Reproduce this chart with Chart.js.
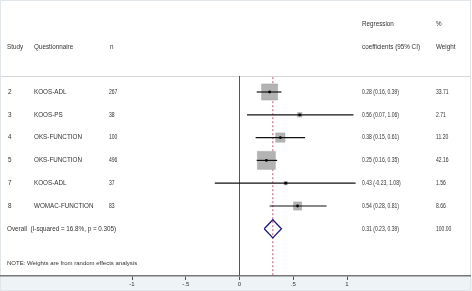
<!DOCTYPE html>
<html>
<head>
<meta charset="utf-8">
<script src="https://cdn.jsdelivr.net/npm/chart.js@4.4.1/dist/chart.umd.min.js"></script>
<style>
  html, body { margin: 0; padding: 0; background: #fff; }
  #wrap { width: 472px; height: 291px; position: relative; }
</style>
</head>
<body>
<div id="wrap"><canvas id="forest"></canvas></div>
<script>
// Study data
const studies = ['2', '3', '4', '5', '7', '8'];
const questionnaires = ['KOOS-ADL', 'KOOS-PS', 'OKS-FUNCTION', 'OKS-FUNCTION', 'KOOS-ADL', 'WOMAC-FUNCTION'];
const sampleSizes = [267, 38, 100, 496, 37, 83];
const estimates = [0.28, 0.56, 0.38, 0.25, 0.43, 0.54];
const lowerCI = [0.16, 0.07, 0.15, 0.16, -0.23, 0.28];
const upperCI = [0.39, 1.06, 0.61, 0.35, 1.08, 0.81];
const weights = [33.71, 2.71, 11.20, 42.16, 1.56, 8.66];

// Pooled estimate
const overall = { est: 0.31, lo: 0.23, hi: 0.39, weight: 100.00 };
const overallLabel = 'Overall  (I-squared = 16.8%, p = 0.305)';
const noteLabel = 'NOTE: Weights are from random effects analysis';

// Axis ticks
const tickValues = [-1, -0.5, 0, 0.5, 1];
const tickLabels = ['-1', '-.5', '0', '.5', '1'];

const fmt = v => v.toFixed(2);
const overallRow = studies.length;

// CI whiskers, one line dataset per study
const ciSets = studies.map((s, i) => ({
  type: 'line',
  data: [{ x: lowerCI[i], y: i }, { x: upperCI[i], y: i }],
  borderColor: '#111',
  borderWidth: 1.2,
  pointRadius: 0,
  order: 1
}));

const datasets = [
  // reference line at zero
  {
    type: 'line',
    data: [{ x: 0, y: -0.7 }, { x: 0, y: 8.07 }],
    borderColor: '#555',
    borderWidth: 1,
    pointRadius: 0,
    order: 5
  },
  // pooled estimate line
  {
    type: 'line',
    data: [{ x: overall.est, y: -0.65 }, { x: overall.est, y: 8.07 }],
    borderColor: '#c4566a',
    borderWidth: 1,
    borderDash: [2, 2],
    pointRadius: 0,
    order: 4
  },
  // weight boxes
  {
    type: 'scatter',
    data: estimates.map((e, i) => ({ x: e, y: i })),
    pointStyle: 'rect',
    pointRadius: weights.map(w => 1.96 * Math.sqrt(w)),
    backgroundColor: '#b3b3b3',
    borderColor: '#a5a5a5',
    borderWidth: 0.5,
    order: 3
  },
  ...ciSets,
  // point estimates
  {
    type: 'scatter',
    data: estimates.map((e, i) => ({ x: e, y: i })),
    pointStyle: 'circle',
    pointRadius: 1.4,
    backgroundColor: '#000',
    borderWidth: 0,
    order: 0
  },
  // pooled diamond
  {
    type: 'line',
    data: [
      { x: overall.lo, y: overallRow },
      { x: overall.est, y: overallRow - 0.4 },
      { x: overall.hi, y: overallRow },
      { x: overall.est, y: overallRow + 0.4 },
      { x: overall.lo, y: overallRow }
    ],
    borderColor: '#1c1c78',
    backgroundColor: '#fff',
    borderWidth: 1.3,
    fill: true,
    pointRadius: 0,
    tension: 0,
    order: 0
  }
];

const frame = {
  id: 'frame',
  beforeDraw(chart) {
    const { ctx, chartArea, width, height } = chart;
    ctx.save();
    ctx.fillStyle = '#eef3f5';
    ctx.fillRect(0, chartArea.bottom, width, height - chartArea.bottom);
    ctx.strokeStyle = '#e0e6ea';
    ctx.lineWidth = 1;
    ctx.strokeRect(0.5, 0.5, 470, height - 1);
    ctx.strokeStyle = '#d6d6d6';
    ctx.beginPath();
    ctx.moveTo(1, 76.5);
    ctx.lineTo(470, 76.5);
    ctx.stroke();
    ctx.restore();
  }
};

// numbers in the reference are set in a narrower face
function narrowText(ctx, text, x, y) {
  ctx.save();
  ctx.translate(x, y);
  ctx.scale(0.8, 1);
  ctx.fillText(text, 0, 0);
  ctx.restore();
}

const labels = {
  id: 'labels',
  afterDraw(chart) {
    const { ctx } = chart;
    const y = chart.scales.y;
    ctx.save();
    ctx.fillStyle = '#333';
    ctx.font = '6.3px "Liberation Sans", Arial, sans-serif';
    ctx.textBaseline = 'middle';
    ctx.textAlign = 'left';

    // header
    const h1 = y.getPixelForValue(-2.95);
    const h2 = y.getPixelForValue(-1.95);
    ctx.fillText('Regression', 362, h1);
    ctx.fillText('%', 436, h1);
    ctx.fillText('Study', 7, h2);
    ctx.fillText('Questionnaire', 34, h2);
    ctx.fillText('n', 110, h2);
    ctx.fillText('coefficients (95% CI)', 362, h2);
    ctx.fillText('Weight', 436, h2);

    studies.forEach((s, i) => {
      const py = y.getPixelForValue(i);
      ctx.fillText(s, 8, py);
      ctx.fillText(questionnaires[i], 34, py);
      narrowText(ctx, String(sampleSizes[i]), 109, py);
      narrowText(ctx, fmt(estimates[i]) + ' (' + fmt(lowerCI[i]) + ', ' + fmt(upperCI[i]) + ')', 362, py);
      narrowText(ctx, fmt(weights[i]), 436, py);
    });

    const po = y.getPixelForValue(overallRow);
    ctx.fillText(overallLabel, 7, po);
    narrowText(ctx, fmt(overall.est) + ' (' + fmt(overall.lo) + ', ' + fmt(overall.hi) + ')', 362, po);
    narrowText(ctx, fmt(overall.weight), 436, po);

    ctx.font = '6px "Liberation Sans", Arial, sans-serif';
    ctx.fillText(noteLabel, 7, y.getPixelForValue(7.5));
    ctx.restore();
  }
};

new Chart(document.getElementById('forest'), {
  data: { datasets },
  plugins: [frame, labels],
  options: {
    responsive: true,
    maintainAspectRatio: false,
    animation: false,
    layout: { autoPadding: false, padding: { left: 0, right: 2, top: 0, bottom: 0 } },
    plugins: { legend: { display: false }, tooltip: { enabled: false } },
    scales: {
      x: {
        type: 'linear',
        min: -2.228,
        max: 2.144,
        afterBuildTicks: scale => { scale.ticks = tickValues.map(v => ({ value: v })); },
        afterFit: scale => { scale.height = 15; },
        ticks: {
          padding: 1,
          color: '#333',
          font: { size: 6, family: '"Liberation Sans", Arial, sans-serif' },
          callback: v => tickLabels[tickValues.indexOf(v)]
        },
        grid: { drawOnChartArea: false, tickLength: 4, color: '#555', tickWidth: 1 },
        border: { color: '#777', width: 1.5 }
      },
      y: {
        type: 'linear',
        reverse: true,
        min: -4.035,
        max: 8.07,
        display: false
      }
    }
  }
});
</script>
</body>
</html>
